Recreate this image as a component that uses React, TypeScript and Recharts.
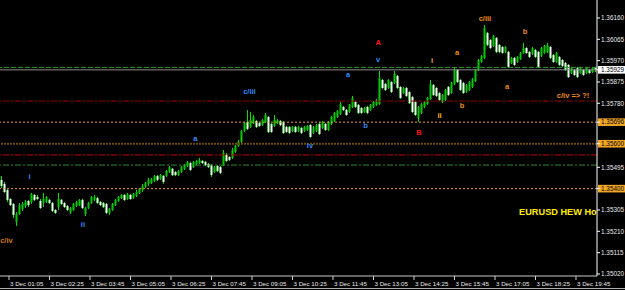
import React from 'react';
import { ComposedChart, Bar, XAxis, YAxis, ReferenceLine, ReferenceDot } from 'recharts';

// EURUSD M5, 3 Dec
const OPEN = [
  1.35439, 1.35421, 1.35394, 1.35354, 1.35332, 1.35252, 1.35287, 1.35309, 1.35323, 1.35345,
  1.35341, 1.35372, 1.35363, 1.35345, 1.35336, 1.35341, 1.35350, 1.35336, 1.35305, 1.35318,
  1.35350, 1.35336, 1.35323, 1.35296, 1.35305, 1.35323, 1.35327, 1.35350, 1.35287, 1.35314,
  1.35336, 1.35350, 1.35358, 1.35341, 1.35336, 1.35332, 1.35292, 1.35305, 1.35327, 1.35345,
  1.35358, 1.35372, 1.35354, 1.35372, 1.35358, 1.35367, 1.35381, 1.35394, 1.35407, 1.35421,
  1.35425, 1.35434, 1.35456, 1.35443, 1.35456, 1.35456, 1.35474, 1.35488, 1.35474, 1.35461,
  1.35474, 1.35488, 1.35501, 1.35514, 1.35496, 1.35510, 1.35514, 1.35523, 1.35519, 1.35510,
  1.35505, 1.35474, 1.35501, 1.35496, 1.35505, 1.35550, 1.35541, 1.35537, 1.35563, 1.35590,
  1.35608, 1.35657, 1.35697, 1.35675, 1.35692, 1.35701, 1.35692, 1.35683, 1.35697, 1.35719,
  1.35688, 1.35679, 1.35692, 1.35701, 1.35697, 1.35675, 1.35675, 1.35657, 1.35675, 1.35657,
  1.35670, 1.35657, 1.35661, 1.35683, 1.35648, 1.35657, 1.35688, 1.35670, 1.35688, 1.35661,
  1.35688, 1.35701, 1.35719, 1.35732, 1.35764, 1.35750, 1.35741, 1.35764, 1.35786, 1.35773,
  1.35759, 1.35741, 1.35764, 1.35750, 1.35764, 1.35773, 1.35777, 1.35884, 1.35866, 1.35848,
  1.35875, 1.35871, 1.35902, 1.35853, 1.35826, 1.35848, 1.35830, 1.35808, 1.35786, 1.35715,
  1.35737, 1.35764, 1.35777, 1.35799, 1.35862, 1.35848, 1.35826, 1.35786, 1.35795, 1.35853,
  1.35826, 1.35866, 1.35928, 1.35884, 1.35871, 1.35830, 1.35839, 1.35853, 1.35879, 1.35928,
  1.35964, 1.35982, 1.36093, 1.36062, 1.36035, 1.36071, 1.36040, 1.36031, 1.36009, 1.36009,
  1.35960, 1.35982, 1.35964, 1.35977, 1.36004, 1.36026, 1.36009, 1.36000, 1.36017, 1.36009,
  1.35991, 1.36004, 1.36009, 1.36031, 1.35995, 1.35964, 1.35986, 1.35973, 1.35960, 1.35951,
  1.35915, 1.35928, 1.35937, 1.35915, 1.35928, 1.35915, 1.35928, 1.35919, 1.35937,
];
const HIGH = [
  1.35456, 1.35430, 1.35399, 1.35358, 1.35336, 1.35296, 1.35336, 1.35341, 1.35350, 1.35350,
  1.35381, 1.35376, 1.35372, 1.35354, 1.35381, 1.35367, 1.35354, 1.35341, 1.35309, 1.35381,
  1.35354, 1.35341, 1.35327, 1.35318, 1.35336, 1.35345, 1.35354, 1.35354, 1.35318, 1.35341,
  1.35367, 1.35372, 1.35363, 1.35345, 1.35341, 1.35336, 1.35314, 1.35336, 1.35354, 1.35367,
  1.35376, 1.35376, 1.35381, 1.35376, 1.35381, 1.35394, 1.35403, 1.35421, 1.35430, 1.35448,
  1.35448, 1.35461, 1.35461, 1.35465, 1.35461, 1.35483, 1.35501, 1.35492, 1.35479, 1.35483,
  1.35501, 1.35510, 1.35523, 1.35519, 1.35523, 1.35528, 1.35537, 1.35528, 1.35523, 1.35514,
  1.35510, 1.35501, 1.35505, 1.35501, 1.35572, 1.35559, 1.35545, 1.35581, 1.35594, 1.35617,
  1.35661, 1.35697, 1.35750, 1.35741, 1.35728, 1.35706, 1.35697, 1.35710, 1.35737, 1.35724,
  1.35692, 1.35728, 1.35710, 1.35706, 1.35701, 1.35679, 1.35679, 1.35679, 1.35679, 1.35679,
  1.35675, 1.35679, 1.35683, 1.35688, 1.35679, 1.35688, 1.35697, 1.35701, 1.35692, 1.35701,
  1.35724, 1.35741, 1.35750, 1.35786, 1.35768, 1.35755, 1.35777, 1.35813, 1.35790, 1.35777,
  1.35764, 1.35764, 1.35768, 1.35777, 1.35790, 1.35799, 1.35924, 1.35888, 1.35871, 1.35888,
  1.35879, 1.35924, 1.35906, 1.35857, 1.35853, 1.35853, 1.35835, 1.35813, 1.35790, 1.35768,
  1.35781, 1.35790, 1.35808, 1.35884, 1.35866, 1.35853, 1.35830, 1.35822, 1.35844, 1.35857,
  1.35875, 1.35942, 1.35933, 1.35888, 1.35875, 1.35866, 1.35879, 1.35893, 1.35933, 1.35977,
  1.35995, 1.36129, 1.36098, 1.36066, 1.36084, 1.36075, 1.36044, 1.36035, 1.36035, 1.36013,
  1.35986, 1.35986, 1.35991, 1.36009, 1.36049, 1.36031, 1.36013, 1.36031, 1.36022, 1.36013,
  1.36031, 1.36040, 1.36049, 1.36035, 1.36000, 1.36009, 1.35991, 1.35977, 1.35964, 1.35955,
  1.35942, 1.35933, 1.35942, 1.35942, 1.35933, 1.35942, 1.35933, 1.35942, 1.35942,
];
const LOW = [
  1.35403, 1.35381, 1.35341, 1.35323, 1.35269, 1.35234, 1.35283, 1.35301, 1.35314, 1.35318,
  1.35332, 1.35345, 1.35350, 1.35309, 1.35318, 1.35336, 1.35332, 1.35296, 1.35287, 1.35305,
  1.35327, 1.35314, 1.35301, 1.35287, 1.35301, 1.35318, 1.35323, 1.35309, 1.35278, 1.35309,
  1.35332, 1.35345, 1.35332, 1.35323, 1.35314, 1.35287, 1.35283, 1.35301, 1.35323, 1.35341,
  1.35354, 1.35345, 1.35350, 1.35350, 1.35354, 1.35363, 1.35376, 1.35385, 1.35403, 1.35412,
  1.35421, 1.35430, 1.35434, 1.35439, 1.35421, 1.35452, 1.35470, 1.35456, 1.35456, 1.35456,
  1.35470, 1.35483, 1.35496, 1.35479, 1.35492, 1.35505, 1.35510, 1.35510, 1.35501, 1.35492,
  1.35452, 1.35470, 1.35474, 1.35465, 1.35501, 1.35519, 1.35523, 1.35532, 1.35559, 1.35586,
  1.35603, 1.35652, 1.35661, 1.35670, 1.35688, 1.35670, 1.35675, 1.35679, 1.35692, 1.35648,
  1.35648, 1.35675, 1.35688, 1.35679, 1.35643, 1.35648, 1.35643, 1.35652, 1.35648, 1.35652,
  1.35643, 1.35652, 1.35657, 1.35626, 1.35643, 1.35652, 1.35639, 1.35666, 1.35657, 1.35657,
  1.35683, 1.35697, 1.35715, 1.35728, 1.35746, 1.35724, 1.35737, 1.35759, 1.35759, 1.35732,
  1.35732, 1.35737, 1.35732, 1.35746, 1.35759, 1.35768, 1.35773, 1.35844, 1.35835, 1.35844,
  1.35826, 1.35866, 1.35844, 1.35799, 1.35822, 1.35808, 1.35777, 1.35737, 1.35724, 1.35697,
  1.35732, 1.35759, 1.35773, 1.35795, 1.35813, 1.35808, 1.35790, 1.35781, 1.35790, 1.35813,
  1.35822, 1.35862, 1.35871, 1.35835, 1.35822, 1.35826, 1.35835, 1.35848, 1.35875, 1.35924,
  1.35960, 1.35977, 1.36035, 1.36022, 1.36031, 1.36004, 1.36004, 1.36000, 1.36004, 1.35937,
  1.35955, 1.35946, 1.35960, 1.35973, 1.36000, 1.36000, 1.35982, 1.35995, 1.35982, 1.35937,
  1.35986, 1.36000, 1.36004, 1.35977, 1.35960, 1.35960, 1.35946, 1.35942, 1.35924, 1.35893,
  1.35911, 1.35902, 1.35893, 1.35911, 1.35902, 1.35911, 1.35911, 1.35915, 1.35919,
];
const CLOSE = [
  1.35412, 1.35385, 1.35350, 1.35327, 1.35283, 1.35287, 1.35327, 1.35332, 1.35341, 1.35327,
  1.35376, 1.35350, 1.35354, 1.35314, 1.35354, 1.35363, 1.35336, 1.35301, 1.35292, 1.35354,
  1.35332, 1.35318, 1.35305, 1.35314, 1.35332, 1.35341, 1.35350, 1.35314, 1.35314, 1.35336,
  1.35363, 1.35363, 1.35336, 1.35327, 1.35318, 1.35292, 1.35309, 1.35332, 1.35350, 1.35363,
  1.35372, 1.35350, 1.35376, 1.35354, 1.35376, 1.35385, 1.35399, 1.35412, 1.35425, 1.35439,
  1.35443, 1.35456, 1.35439, 1.35461, 1.35430, 1.35479, 1.35496, 1.35461, 1.35461, 1.35479,
  1.35496, 1.35505, 1.35519, 1.35483, 1.35519, 1.35523, 1.35528, 1.35514, 1.35505, 1.35496,
  1.35461, 1.35496, 1.35479, 1.35470, 1.35559, 1.35523, 1.35528, 1.35572, 1.35590, 1.35608,
  1.35657, 1.35692, 1.35666, 1.35706, 1.35719, 1.35675, 1.35679, 1.35706, 1.35728, 1.35652,
  1.35652, 1.35706, 1.35706, 1.35683, 1.35648, 1.35652, 1.35648, 1.35675, 1.35652, 1.35675,
  1.35648, 1.35675, 1.35679, 1.35630, 1.35675, 1.35683, 1.35643, 1.35697, 1.35661, 1.35697,
  1.35719, 1.35737, 1.35746, 1.35777, 1.35750, 1.35728, 1.35773, 1.35804, 1.35764, 1.35737,
  1.35737, 1.35759, 1.35737, 1.35773, 1.35786, 1.35795, 1.35893, 1.35848, 1.35839, 1.35884,
  1.35830, 1.35911, 1.35848, 1.35804, 1.35848, 1.35813, 1.35781, 1.35741, 1.35728, 1.35764,
  1.35777, 1.35786, 1.35804, 1.35866, 1.35817, 1.35813, 1.35795, 1.35817, 1.35839, 1.35817,
  1.35871, 1.35928, 1.35875, 1.35839, 1.35826, 1.35862, 1.35875, 1.35888, 1.35928, 1.35973,
  1.35991, 1.36115, 1.36040, 1.36026, 1.36080, 1.36009, 1.36009, 1.36004, 1.36031, 1.35942,
  1.35982, 1.35951, 1.35986, 1.36004, 1.36026, 1.36004, 1.35986, 1.36026, 1.35986, 1.35942,
  1.36026, 1.36035, 1.36040, 1.35982, 1.35964, 1.36004, 1.35951, 1.35946, 1.35928, 1.35897,
  1.35937, 1.35906, 1.35897, 1.35937, 1.35906, 1.35937, 1.35915, 1.35937, 1.35929,
];

// time axis: first bar ~00:49, one bar every 80/13.5 minutes on this screen
const DAY = '3 Dec';
const TIME_LABELS = ['01:05', '02:25', '03:45', '05:05', '06:25', '07:45', '09:05', '10:25',
  '11:45', '13:05', '14:25', '15:45', '17:05', '18:25', '19:45'];
const FIRST_BAR_MIN = 49.2;
const BAR_MIN = 80 / 13.5;

const PRICE_TICKS = [1.3616, 1.36065, 1.3597, 1.35875, 1.3578, 1.35495, 1.35305, 1.3521, 1.35115, 1.3502];
const BOX_PRICES = [1.35929, 1.35696, 1.356, 1.354];
const BID = 1.35929;

// horizontal levels from the HEW indicator
const LEVEL_PRICES = [1.3594, 1.3579, 1.35696, 1.356, 1.3555, 1.35505, 1.354];

// wave labels
const WAVE_TEXT = ['c/iv', 'i', 'ii', 'a', 'c/iii', 'iv', 'a', 'b', 'v', 'A', 'B',
  'i', 'ii', 'a', 'b', 'c/iii', 'a', 'b', 'c/iv => ?!'];
const WAVE_BAR = [1.8, 9.5, 27.3, 64.8, 82.8, 103, 115.7, 121.5, 125.7, 125.7, 139.3,
  143.7, 146.2, 152, 153.7, 161.3, 168.7, 174.7, 190.7];
const WAVE_PRICE = [1.35171, 1.35456, 1.3524, 1.35623, 1.35833, 1.35594, 1.35911, 1.35681, 1.35977,
  1.36051, 1.3565, 1.35973, 1.35726, 1.36009, 1.35773, 1.3616, 1.35857, 1.361, 1.35815];
const WAVE_KIND = ['brown', 'blue', 'blue', 'blue', 'blue', 'blue', 'blue', 'blue', 'blue', 'red', 'red',
  'gold', 'gold', 'orange', 'orange', 'orange', 'orange', 'orange', 'orange'];

const TITLE = 'EURUSD HEW Hor';
const TITLE_BAR = 172.7;
const TITLE_PRICE = 1.35296;

const W = 625;
const H = 290;
const AXIS_W = 28;
const AXIS_H = 14;
const PLOT_W = W - AXIS_W;
const PLOT_H = H - AXIS_H;
const FONT = '"Liberation Sans", Arial, sans-serif';

const WAVE_COLORS: Record<string, string> = {
  blue: '#2f8cff',
  red: '#ff1010',
  gold: '#f2b600',
  orange: '#f08c10',
  brown: '#d27a00',
};

const LEVEL_STYLES = [
  { stroke: '#2e9a2e', dash: '5 2', width: 1 },
  { stroke: '#9a0000', dash: '6 2 2 2', width: 1 },
  { stroke: '#e8a028', dash: '2 2', width: 1 },
  { stroke: '#6e4c00', dash: '2 1', width: 2 },
  { stroke: '#cc0000', dash: '6 2 2 2', width: 1 },
  { stroke: '#2e8b2e', dash: '6 2 2 2', width: 1 },
  { stroke: '#e8a028', dash: '2 2', width: 1 },
];

const data = OPEN.map((o, i) => ({ i, open: o, high: HIGH[i], low: LOW[i], close: CLOSE[i] }));

const toMin = (s: string) => Number(s.slice(0, 2)) * 60 + Number(s.slice(3));
const timeTicks = TIME_LABELS.map((s) => (toMin(s) - FIRST_BAR_MIN) / BAR_MIN);

const Candle = (props: any) => {
  const { x, y, width, height } = props;
  const d = props.payload || props;
  if (d == null || y == null) return null;
  const span = d.high - d.low || 1e-9;
  const yOf = (v: number) => y + ((d.high - v) / span) * height;
  const c = Math.round(x + width / 2);
  const yo = yOf(d.open);
  const yc = yOf(d.close);
  const top = Math.min(yo, yc);
  const bot = Math.max(yo, yc);
  const bull = d.close >= d.open;
  return (
    <g>
      <line x1={c + 0.5} x2={c + 0.5} y1={y} y2={y + height} stroke="#00e400" strokeWidth={1} />
      {bull ? (
        <rect x={c - 0.5} y={top} width={2} height={Math.max(bot - top, 1)} fill="#00cc00" />
      ) : (
        <g>
          <rect x={c - 0.5} y={top} width={2} height={Math.max(bot - top, 1)} fill="#ffffff" />
          <line x1={c - 0.5} x2={c - 0.5} y1={top} y2={top + Math.max(bot - top, 1)} stroke="#00e400" strokeWidth={0.6} />
        </g>
      )}
    </g>
  );
};

const XTick = (props: any) => {
  const { x, y, index } = props;
  return (
    <g>
      <line x1={x} x2={x} y1={y} y2={y + 4} stroke="#d0d0d0" strokeWidth={1} />
      <text x={x + 1} y={y + 9.5} fill="#e8e8e8" fontSize={6.2} fontFamily={FONT} textAnchor="start">
        {`${DAY} ${TIME_LABELS[index]}`}
      </text>
    </g>
  );
};

const YTick = (props: any) => {
  const { x, y, payload } = props;
  const v = payload.value as number;
  const boxed = BOX_PRICES.includes(v);
  const isBid = v === BID;
  return (
    <g>
      {boxed && (
        <rect x={x + 1} y={y - 3.8} width={AXIS_W - 1} height={7.6} fill={isBid ? '#ffffff' : '#f2a626'} />
      )}
      <line x1={x} x2={x + 3} y1={y} y2={y} stroke="#ffffff" strokeWidth={1} />
      <text x={x + 4} y={y} dy={2.2} fill={boxed ? '#000000' : '#e8e8e8'} fontSize={6.4} fontFamily={FONT}>
        {v.toFixed(5)}
      </text>
    </g>
  );
};

const WaveLabel = (text: string, color: string, anchor: 'middle' | 'start', size: number, bold: boolean, clip = false) =>
  (p: any) => (
    <g>
      {clip && (
        <defs>
          <clipPath id="titleClip">
            <rect x={0} y={0} width={PLOT_W} height={PLOT_H} />
          </clipPath>
        </defs>
      )}
      <text
        x={p.cx}
        y={p.cy}
        dy={size * 0.36}
        fill={color}
        fontSize={size}
        fontWeight={bold ? 700 : 400}
        fontFamily={FONT}
        textAnchor={anchor}
        clipPath={clip ? 'url(#titleClip)' : undefined}
      >
        {text}
      </text>
    </g>
  );

export default function App() {
  const barDomain: [number, number] = [-1 / 3, data.length - 1 / 3];
  return (
    <div style={{ position: 'absolute', left: 0, top: 0, width: W, height: H, background: '#000000', overflow: 'hidden' }}>
      <ComposedChart width={W} height={H} data={data} margin={{ top: 0, right: 0, bottom: 0, left: 0 }}>
        <XAxis
          dataKey="i"
          type="number"
          domain={barDomain}
          allowDataOverflow
          ticks={timeTicks}
          interval={0}
          height={AXIS_H}
          tickSize={0}
          tickMargin={0}
          axisLine={{ stroke: '#c8c8c8' }}
          tick={<XTick />}
        />
        <YAxis
          orientation="right"
          type="number"
          domain={[1.35011, 1.3624]}
          allowDataOverflow
          ticks={[...PRICE_TICKS, ...BOX_PRICES]}
          interval={0}
          width={AXIS_W}
          tickSize={0}
          tickMargin={0}
          axisLine={{ stroke: '#ffffff' }}
          tick={<YTick />}
        />
        {LEVEL_PRICES.map((p, k) => (
          <ReferenceLine
            key={`lv${k}`}
            y={p}
            stroke={LEVEL_STYLES[k].stroke}
            strokeDasharray={LEVEL_STYLES[k].dash}
            strokeWidth={LEVEL_STYLES[k].width}
          />
        ))}
        <ReferenceLine y={BID} stroke="#8c8c8c" strokeWidth={1} />
        <Bar
          dataKey={(d: any) => [d.low, d.high]}
          barSize={3}
          shape={<Candle />}
          isAnimationActive={false}
        />
        {WAVE_TEXT.map((t, k) => (
          <ReferenceDot
            key={`w${k}`}
            x={WAVE_BAR[k]}
            y={WAVE_PRICE[k]}
            r={0}
            shape={WaveLabel(t, WAVE_COLORS[WAVE_KIND[k]], 'middle', 7.5, true)}
          />
        ))}
        <ReferenceDot
          x={TITLE_BAR}
          y={TITLE_PRICE}
          r={0}
          shape={WaveLabel(TITLE, '#ffee00', 'start', 9.2, true, true)}
        />
      </ComposedChart>
      <div style={{ position: 'absolute', left: 0, top: 288, width: W, height: 1, background: '#b0b0b0' }} />
    </div>
  );
}
